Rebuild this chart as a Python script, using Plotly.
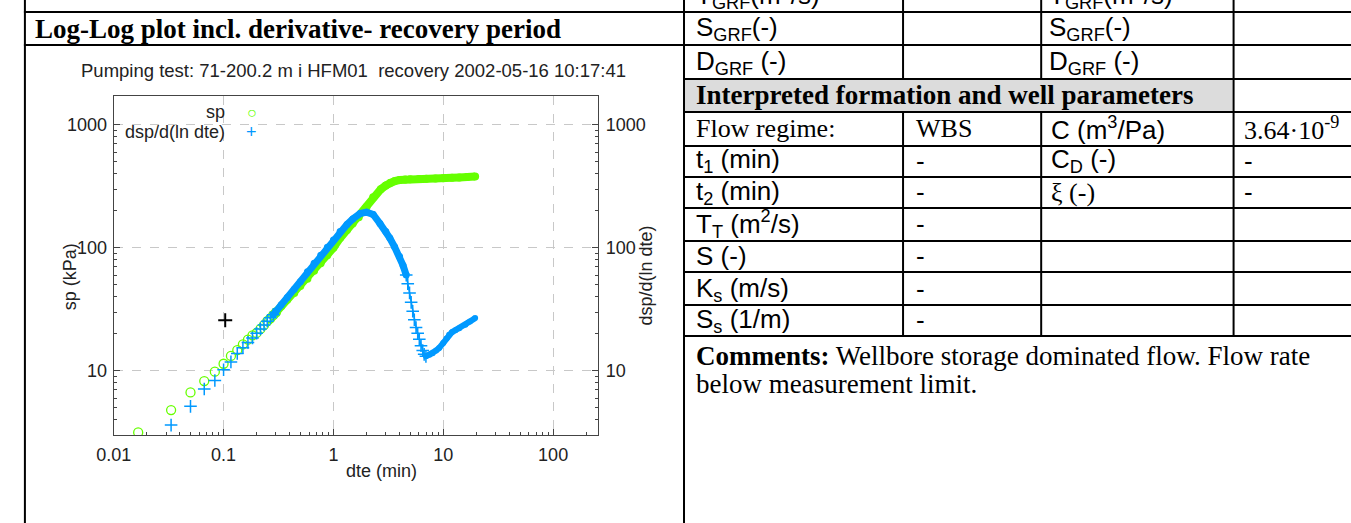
import math
import plotly.graph_objects as go

W, H = 1351, 523

# ---------------- data ----------------
# sp (kPa) – early, individually visible samples
sp_early_t = [0.0167, 0.0333, 0.05, 0.0667, 0.0833, 0.1, 0.1167, 0.1333, 0.15,
              0.1667, 0.1833, 0.2, 0.2167, 0.2333, 0.25, 0.2667, 0.2833, 0.3]
sp_early_v = [3.15, 4.79, 6.66, 8.24, 9.82, 11.4, 13.2, 14.7, 16.4,
              17.9, 19.4, 20.3, 21.9, 23.5, 25.3, 26.7, 28.3, 29.9]
# sp (kPa) – dense part
sp_t = [0.3, 0.335, 0.38, 0.44, 0.5, 0.58, 0.667, 0.766, 0.88, 1.0, 1.15, 1.33,
        1.5, 1.7, 2.0, 2.3, 2.7, 3.0, 3.3, 3.6, 4.0, 4.5, 5.0, 6.0, 7.0, 8.5,
        10.0, 12.0, 14.0, 16.5, 19.5]
sp_v = [29.9, 33.4, 37.8, 43.0, 49.0, 56.0, 65.0, 75.0, 87.0, 100.0, 120.0, 140.0,
        158.0, 177.0, 215.0, 258.0, 300.0, 322.0, 338.0, 349.0, 356.0, 359.0, 361.0,
        363.0, 365.0, 367.0, 369.0, 372.0, 374.0, 377.0, 380.0]

# dsp/d(ln dte) – early samples
dsp_early_t = [0.0333, 0.05, 0.0667, 0.0833, 0.1, 0.1167, 0.1333, 0.15, 0.1667,
               0.1833, 0.2, 0.2167, 0.2333, 0.25, 0.2667, 0.2833]
dsp_early_v = [3.61, 5.13, 7.1, 8.33, 10.2, 11.8, 13.8, 15.4, 17.0,
               18.5, 20.2, 21.9, 23.6, 25.3, 27.0, 28.6]
# dsp – dense part up to the peak and fall
dsp_t = [0.2833, 0.3, 0.335, 0.38, 0.44, 0.5, 0.58, 0.667, 0.766, 0.88, 1.0, 1.15,
         1.33, 1.5, 1.75, 2.0, 2.3, 2.65, 3.0, 3.26, 3.6, 4.0, 4.3, 4.6]
dsp_v = [28.6, 30.5, 34.5, 39.5, 46.0, 53.0, 64.0, 75.0, 87.0, 101.0, 116.0, 136.0,
         155.0, 172.0, 190.0, 195.0, 187.0, 158.0, 136.0, 120.0, 102.0, 85.0, 72.0, 60.0]
# dsp – sparse steep part
dsp_mid_t = [4.6, 4.75, 4.93, 5.1, 5.27, 5.45, 5.65, 5.85, 6.05, 6.27, 6.5, 6.7, 6.95]
dsp_mid_v = [60.0, 51.0, 43.0, 36.0, 30.5, 26.0, 22.5, 20.2, 18.0, 16.0, 14.6, 13.6, 13.1]
# dsp – late rising part
dsp_late_t = [6.95, 7.5, 8.0, 8.6, 9.16, 10.0, 10.7, 11.3, 12.0, 12.9, 14.0, 15.9, 17.5, 19.5]
dsp_late_v = [13.1, 13.5, 13.9, 14.6, 15.3, 16.8, 18.3, 19.6, 20.6, 21.4, 22.2, 23.7, 25.2, 26.8]

# single black marker
cursor_t = [0.1035]
cursor_v = [25.8]

x_ticks = [0.01, 0.1, 1, 10, 100]
x_tick_text = ["0.01", "0.1", "1", "10", "100"]
y_ticks = [10, 100, 1000]
y_tick_text = ["10", "100", "1000"]

GREEN = "#66FF00"
BLUE = "#0099FF"
SANS = "Liberation Sans, Arial, sans-serif"
SERIF = "Liberation Serif, Times New Roman, serif"


def X(p):
    return p / W


def Y(p):
    return 1 - p / H


fig = go.Figure()

fig.add_trace(go.Scatter(x=sp_early_t, y=sp_early_v, mode="markers", name="sp",
                         marker=dict(symbol="circle-open", size=9, color=GREEN,
                                     line=dict(width=1.3, color=GREEN)),
                         xaxis="x", yaxis="y", showlegend=False))
fig.add_trace(go.Scatter(x=sp_t, y=sp_v, mode="lines+markers", name="sp",
                         line=dict(color=GREEN, width=8),
                         marker=dict(symbol="circle", size=8, color=GREEN),
                         xaxis="x", yaxis="y", showlegend=False))

cross = dict(symbol="cross-thin", size=9, color=BLUE, line=dict(width=1.5, color=BLUE))
fig.add_trace(go.Scatter(x=dsp_early_t, y=dsp_early_v, mode="markers", name="dsp",
                         marker=cross, xaxis="x", yaxis="y2", showlegend=False))
fig.add_trace(go.Scatter(x=dsp_t, y=dsp_v, mode="lines+markers", name="dsp",
                         line=dict(color=BLUE, width=7),
                         marker=dict(symbol="circle", size=7, color=BLUE),
                         xaxis="x", yaxis="y2", showlegend=False))
fig.add_trace(go.Scatter(x=dsp_mid_t, y=dsp_mid_v, mode="lines+markers", name="dsp",
                         line=dict(color=BLUE, width=1.5), marker=cross,
                         xaxis="x", yaxis="y2", showlegend=False))
fig.add_trace(go.Scatter(x=dsp_late_t, y=dsp_late_v, mode="lines+markers", name="dsp",
                         line=dict(color=BLUE, width=6),
                         marker=dict(symbol="circle", size=6, color=BLUE),
                         xaxis="x", yaxis="y2", showlegend=False))
fig.add_trace(go.Scatter(x=cursor_t, y=cursor_v, mode="markers", name="cursor",
                         marker=dict(symbol="cross-thin", size=10, color="black",
                                     line=dict(width=2, color="black")),
                         xaxis="x", yaxis="y", showlegend=False))

minor_x = [k * 10 ** e for e in range(-2, 3) for k in range(2, 10) if k * 10 ** e < 257]
minor_y = [k * 10 ** e for e in range(0, 4) for k in range(2, 10) if 3 <= k * 10 ** e < 1720]

AX = "#444444"
common = dict(type="log", showline=True, linecolor=AX, linewidth=1, ticks="inside",
              ticklen=6, tickcolor=AX, tickwidth=1, zeroline=False,
              tickfont=dict(family=SANS, size=18, color="#222222"))

fig.update_layout(
    width=W, height=H, margin=dict(l=0, r=0, t=0, b=0),
    paper_bgcolor="white", plot_bgcolor="white", showlegend=False,
    xaxis=dict(**common, range=[-2, math.log10(257)], domain=[X(97), X(588)],
               anchor="y", mirror=True, tickvals=x_ticks, ticktext=x_tick_text,
               ticklabelstandoff=3,
               showgrid=True, gridcolor="#c8c8c8", griddash="dash", gridwidth=1,
               minor=dict(tickvals=minor_x, ticks="inside", ticklen=3, tickcolor=AX,
                          showgrid=False)),
    yaxis=dict(**common, range=[math.log10(3), math.log10(1720)], domain=[Y(435), Y(96)],
               anchor="x", tickvals=y_ticks, ticktext=y_tick_text, ticklabelstandoff=2,
               showgrid=True, gridcolor="#c8c8c8", griddash="dash", gridwidth=1,
               minor=dict(tickvals=minor_y, ticks="inside", ticklen=3, tickcolor=AX,
                          showgrid=False)),
    yaxis2=dict(**common, range=[math.log10(3), math.log10(1720)], overlaying="y",
                side="right", anchor="x", tickvals=y_ticks, ticktext=y_tick_text,
                ticklabelstandoff=3, showgrid=False,
                minor=dict(tickvals=minor_y, ticks="inside", ticklen=3, tickcolor=AX,
                           showgrid=False)),
)

# ---------------- table frame ----------------
shapes = []


def hline(y, x0, x1):
    shapes.append(dict(type="line", xref="paper", yref="paper", x0=X(x0), x1=X(x1),
                       y0=Y(y), y1=Y(y), line=dict(color="black", width=2)))


def vline(x, y0, y1):
    shapes.append(dict(type="line", xref="paper", yref="paper", x0=X(x), x1=X(x),
                       y0=Y(y0), y1=Y(y1), line=dict(color="black", width=2)))


shapes.append(dict(type="rect", xref="paper", yref="paper", x0=X(676), x1=X(1231),
                   y0=Y(111), y1=Y(80), fillcolor="#dcdcdc", line=dict(width=0),
                   layer="below"))
hline(12, 6, W)
hline(45, 6, W)
for yy in [79, 112, 146, 177, 208, 241, 272, 305, 336]:
    hline(yy, 675, W)
vline(7, 0, H)
vline(675, 0, H)
for xx in [897, 1037]:
    vline(xx, 0, 79)
    vline(xx, 112, 336)
vline(1232, 0, 336)

ann = []


def text(x, y, s, size=26, family=SANS, anchor="left", color="black", angle=0):
    ann.append(dict(x=X(x), y=Y(y), xref="paper", yref="paper", text=s, showarrow=False,
                    xanchor=anchor, yanchor="middle", textangle=angle,
                    font=dict(family=family, size=size, color=color)))


# left side
text(15, 29, "<b>Log-Log plot incl. derivative- recovery period</b>", size=27, family=SERIF)
text(340, 70, "Pumping test: 71-200.2 m i HFM01  recovery 2002-05-16 10:17:41",
     size=18.5, anchor="center", color="#222222")
text(53, 277, "sp (kPa)", size=18, anchor="center", angle=-90, color="#222222")
text(636, 276, "dsp/d(ln dte)", size=18, anchor="center", angle=-90, color="#222222")
text(368, 471, "dte (min)", size=18, anchor="center", color="#222222")
text(212, 112, "sp", size=18, anchor="right", color="#222222")
text(212, 132, "dsp/d(ln dte)", size=18, anchor="right", color="#222222")
text(237, 113, "○", size=16, anchor="center", color=GREEN)
text(237, 132, "+", size=18, anchor="center", color=BLUE)

# right table
text(685, -5, "T<sub>GRF</sub>(m<sup>2</sup>/s)")
text(1043, -5, "T<sub>GRF</sub>(m<sup>2</sup>/s)")
text(685, 29, "S<sub>GRF</sub>(-)")
text(1043, 29, "S<sub>GRF</sub>(-)")
text(685, 62, "D<sub>GRF</sub> (-)")
text(1043, 62, "D<sub>GRF</sub> (-)")
text(685, 95, "<b>Interpreted formation and well parameters</b>", size=27, family=SERIF)
text(685, 128, "Flow regime:", family=SERIF)
text(908, 128, "WBS", family=SERIF)
text(1045, 128, "C (m<sup>3</sup>/Pa)")
text(1241, 128, "3.64·10<sup>-9</sup>", family=SERIF)
text(685, 161, "t<sub>1</sub> (min)")
text(908, 161, "-")
text(1045, 161, "C<sub>D</sub> (-)")
text(1241, 161, "-")
text(685, 192, "t<sub>2</sub> (min)")
text(908, 192, "-")
text(1045, 192, "ξ (-)", family=SERIF)
text(1241, 192, "-")
text(685, 224, "T<sub>T</sub> (m<sup>2</sup>/s)")
text(908, 224, "-")
text(685, 256, "S (-)")
text(908, 256, "-")
text(685, 289, "K<sub>s</sub> (m/s)")
text(908, 289, "-")
text(685, 320, "S<sub>s</sub> (1/m)")
text(908, 320, "-")
text(685, 356, "<b>Comments:</b> Wellbore storage dominated flow. Flow rate", size=27, family=SERIF)
text(685, 384, "below measurement limit.", size=27, family=SERIF)

fig.update_layout(shapes=shapes, annotations=ann)
fig.write_html("out.html", config={"displayModeBar": False},
               post_script="document.body.style.margin='0px';"
                           "document.body.style.overflow='hidden';")
